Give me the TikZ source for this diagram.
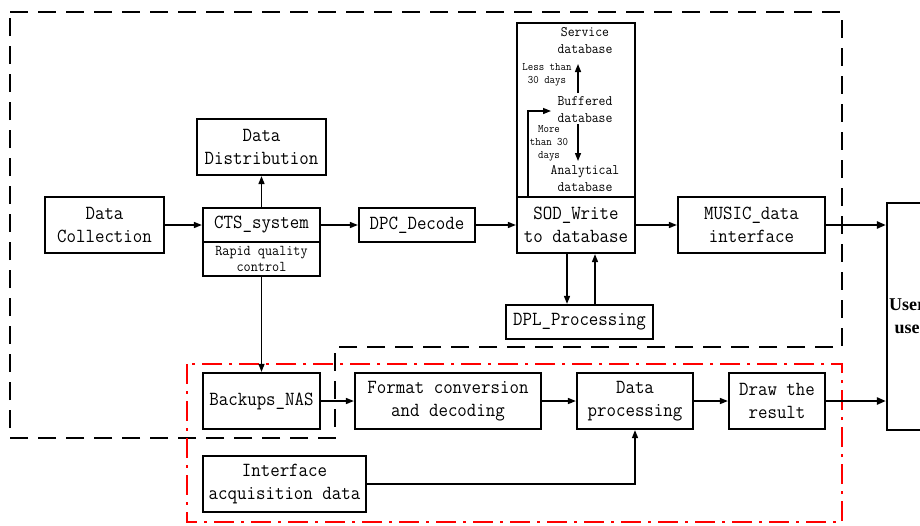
\documentclass[tikz,border=0pt]{standalone}
\usepackage{fontspec}
\usetikzlibrary{arrows.meta,calc}
\newfontfamily\monofnt[FakeStretch=0.92]{Latin Modern Mono}
\newfontfamily\userfnt{Liberation Serif}
\tikzset{
  blk/.style={draw, line width=2.2pt, inner sep=0pt, align=center,
    font=\monofnt\fontsize{20}{23}\selectfont},
  smallblk/.style={blk, font=\monofnt\fontsize{15}{16.5}\selectfont},
  lbl/.style={inner sep=0pt, align=center, font=\monofnt\fontsize{14.5}{17}\selectfont},
  tinylbl/.style={inner sep=0pt, align=center, font=\monofnt\fontsize{11.5}{13}\selectfont},
  arr/.style={line width=1.4pt, -{Triangle[length=8pt,width=6pt]}},
  thickarr/.style={line width=2.4pt, -{Triangle[length=9pt,width=7pt]}},
  blackdash/.style={line width=2.8pt, dash pattern=on 18pt off 10pt},
  reddash/.style={draw=red, line width=2.8pt, dash pattern=on 20pt off 7pt on 3pt off 7pt}
}
\begin{document}
\begin{tikzpicture}[x=1pt,y=-1pt]
\useasboundingbox (0,0) rectangle (920,525);
\clip (0,0) rectangle (920,525);
\fill[white] (0,0) rectangle (920,525);

% regions
\draw[blackdash] (10,12) -- (842,12) -- (842,347) -- (335,347) -- (335,438) -- (10,438) -- cycle;
\draw[reddash] (187,364) rectangle (842,522);

% nodes
\node[blk, minimum width=119pt, minimum height=56pt] (dc) at (104.5,225) {Data\\Collection};
\node[blk, minimum width=117pt, minimum height=34pt] (cts) at (261.5,225) {CTS\_system};
\node[smallblk, minimum width=117pt, minimum height=34pt] (rqc) at (261.5,259) {Rapid quality\\control};
\node[blk, minimum width=129pt, minimum height=56pt] (dd) at (261.5,147) {Data\\Distribution};
\node[blk, minimum width=116pt, minimum height=34pt] (dpc) at (417,225) {DPC\_Decode};
\node[blk, minimum width=118pt, minimum height=56pt] (sod) at (576,225) {SOD\_Write\\to database};
\node[blk, minimum width=118pt, minimum height=174pt] (dbbox) at (576,110) {};
\node[blk, minimum width=147pt, minimum height=56pt] (music) at (751.5,225) {MUSIC\_data\\interface};
\node[blk, minimum width=147pt, minimum height=34pt] (dpl) at (579.5,322) {DPL\_Processing};
\node[blk, minimum width=100pt, minimum height=227pt] (user) at (937,316.5) {};
\node[anchor=west, inner sep=0pt, align=center, font=\userfnt\bfseries\fontsize{18}{23}\selectfont] (usertxt) at (889,316.5) {User\\use};
\node[blk, minimum width=117pt, minimum height=56pt] (nas) at (261.5,401) {Backups\_NAS};
\node[blk, minimum width=186pt, minimum height=56pt] (fmt) at (448,401) {Format conversion\\and decoding};
\node[blk, minimum width=116pt, minimum height=56pt] (dp) at (635,401) {Data\\processing};
\node[blk, minimum width=96pt, minimum height=56pt] (drw) at (777,401) {Draw the\\result};
\node[blk, minimum width=163pt, minimum height=56pt] (iad) at (284.5,484) {Interface\\acquisition data};

% database box contents
\node[lbl] (svc) at (585,40.5) {Service\\database};
\node[lbl] (buf) at (585,109.5) {Buffered\\database};
\node[lbl] (ana) at (585,178.5) {Analytical\\database};
\node[tinylbl] (less) at (547,75) {Less than\\30 days};
\node[tinylbl] (more) at (549,143) {More\\than 30\\days};
\coordinate (upA) at (578,93);
\coordinate (upB) at (578,64);
\coordinate (dnA) at (578,124);
\coordinate (dnB) at (578,161);
\coordinate (bufin) at (551,111);
\draw[arr] (upA) -- (upB);
\draw[arr] (dnA) -- (dnB);
\draw[arr] ([xshift=-48pt]sod.north) |- (bufin);

% connectors
\draw[arr] (dc.east) -- (cts.west);
\draw[arr] (cts.north) -- (dd.south);
\draw[arr] (cts.east) -- (dpc.west);
\draw[arr] (dpc.east) -- (sod.west);
\draw[arr] (sod.east) -- (music.west);
\draw[thickarr] (music.east) -- (music.east -| user.west);
\draw[arr] ([xshift=-9pt]sod.south) -- ([xshift=-9pt]sod.south |- dpl.north);
\draw[arr] ([xshift=19pt]sod.south |- dpl.north) -- ([xshift=19pt]sod.south);
\draw[arr] (rqc.south) -- (nas.north);
\draw[arr] (nas.east) -- (fmt.west);
\draw[arr] (fmt.east) -- (dp.west);
\draw[arr] (dp.east) -- (drw.west);
\draw[thickarr] (drw.east) -- (drw.east -| user.west);
\draw[arr] (iad.east) -| (dp.south);
\end{tikzpicture}
\end{document}
